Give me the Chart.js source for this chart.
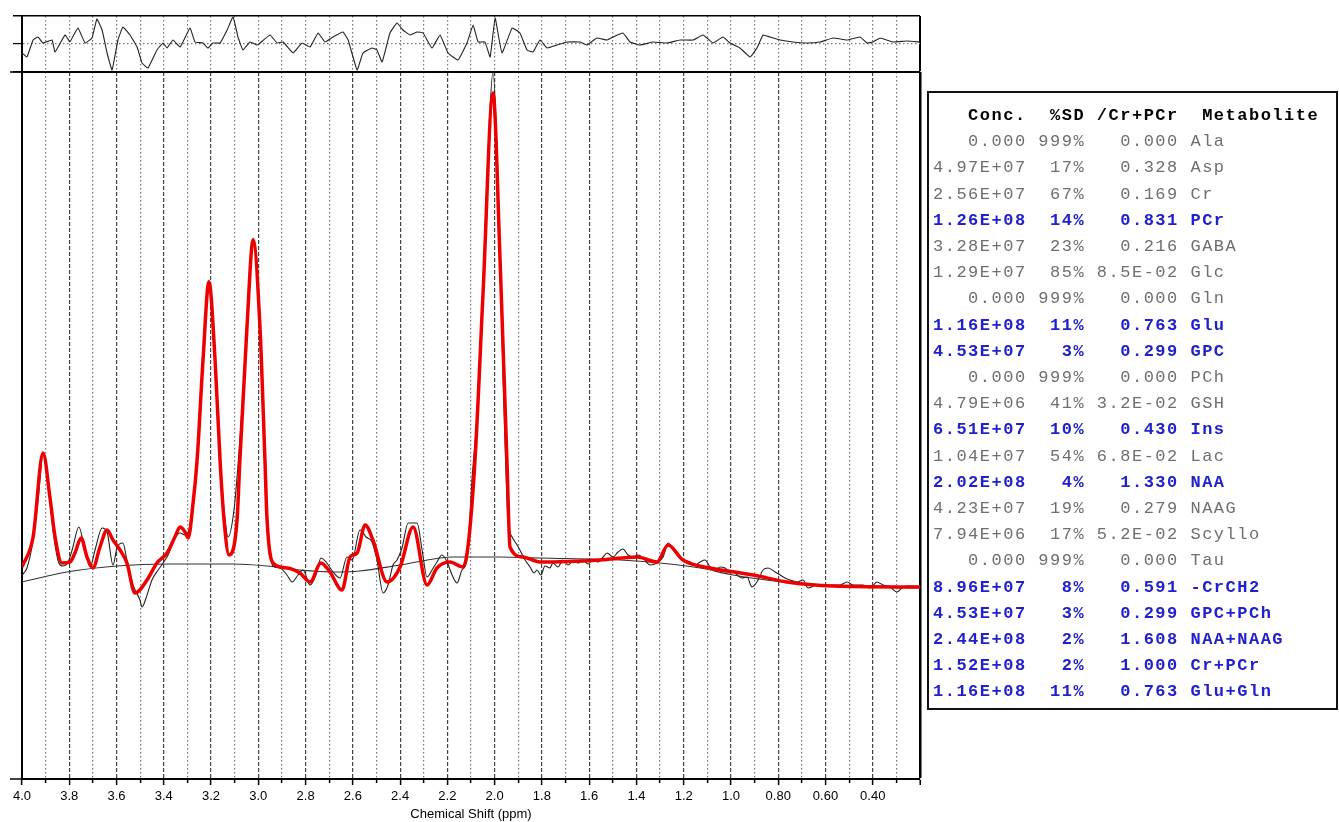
<!DOCTYPE html>
<html>
  <head>
    <script src="https://cdn.jsdelivr.net/npm/chart.js"></script>
    <title>LCModel fit</title>
    <style>
      body {
        margin: 0;
        background-color: white;
        width: 1339px;
        height: 822px;
        overflow: hidden;
        position: relative;
      }
      .panel {
        position: absolute;
        left: 0;
      }
      .table {
        position: absolute;
        left: 927px;
        top: 91px;
        width: 411px;
        height: 619px;
        box-sizing: border-box;
        border: 2px solid #111;
        padding: 10px 0 0 4px;
        font-family: "Liberation Mono", "DejaVu Sans Mono", monospace;
        font-size: 17px;
        letter-spacing: 1.5px;
        line-height: 26.2px;
        white-space: pre;
        color: #6f6f6f;
      }
      .table .head { color: #000; font-weight: bold; }
      .table .hi { color: #2020d0; font-weight: bold; }
    </style>
  </head>
  <body>
    <canvas id="residual" class="panel" style="top:0px" width="930" height="80"></canvas>
    <canvas id="spectrum" class="panel" style="top:66px" width="930" height="756"></canvas>
    <div class="table" id="table"></div>

<script>
  // x positions in ppm, intensities in plot units (0 = x axis, 707 = top of plot)
  const fitPpm = [4.000, 3.953, 3.911, 3.882, 3.860, 3.831, 3.797, 3.776, 3.750, 3.725, 3.700, 3.670, 3.640, 3.615,
    3.585, 3.556, 3.522, 3.471, 3.429, 3.386, 3.353, 3.331, 3.310, 3.297, 3.276, 3.259, 3.234, 3.209, 3.183, 3.162,
    3.145, 3.124, 3.090, 3.078, 3.048, 3.022, 2.993, 2.972, 2.963, 2.938, 2.879, 2.824, 2.781, 2.735, 2.697, 2.646,
    2.612, 2.582, 2.548, 2.515, 2.455, 2.400, 2.345, 2.286, 2.244, 2.189, 2.134, 2.113, 2.083, 2.049, 2.007, 1.977,
    1.948, 1.935, 1.880, 1.808, 1.554, 1.397, 1.313, 1.266, 1.203, 1.088, 0.960, 0.906, 0.763, 0.568, 0.200];
  const fitVal = [212, 242, 326, 282, 242, 216, 217, 226, 241, 222, 211, 232, 249, 239,
    229, 216, 186, 199, 216, 226, 242, 252, 247, 241, 276, 319, 419, 497, 419, 319,
    259, 224, 259, 319, 452, 539, 452, 319, 259, 216, 211, 206, 197, 216, 207, 189,
    222, 226, 254, 239, 197, 212, 252, 194, 211, 217, 212, 232, 319, 486, 686, 519,
    319, 232, 222, 217, 219, 222, 217, 234, 219, 211, 206, 204, 197, 193, 192];

  const dataPpm = [4.000, 3.979, 3.953, 3.932, 3.911, 3.890, 3.869, 3.848, 3.827, 3.805, 3.788, 3.759, 3.738, 3.712,
    3.691, 3.661, 3.640, 3.615, 3.598, 3.573, 3.556, 3.530, 3.501, 3.492, 3.475, 3.450, 3.424, 3.403, 3.382, 3.353,
    3.331, 3.310, 3.289, 3.259, 3.234, 3.209, 3.183, 3.162, 3.145, 3.128, 3.103, 3.078, 3.048, 3.022, 2.993, 2.972,
    2.955, 2.938, 2.908, 2.879, 2.857, 2.832, 2.811, 2.781, 2.756, 2.735, 2.713, 2.684, 2.654, 2.625, 2.603, 2.570,
    2.544, 2.519, 2.498, 2.472, 2.451, 2.430, 2.413, 2.392, 2.366, 2.328, 2.307, 2.286, 2.265, 2.244, 2.223, 2.201,
    2.180, 2.159, 2.138, 2.117, 2.096, 2.070, 2.045, 2.024, 2.007, 1.986, 1.964, 1.943, 1.926, 1.905, 1.893, 1.871,
    1.850, 1.833, 1.821, 1.804, 1.787, 1.766, 1.753, 1.732, 1.711, 1.689, 1.668, 1.647, 1.626, 1.605, 1.584, 1.562,
    1.541, 1.524, 1.499, 1.478, 1.457, 1.435, 1.414, 1.393, 1.372, 1.342, 1.313, 1.287, 1.266, 1.245, 1.215, 1.173,
    1.152, 1.131, 1.110, 1.088, 1.067, 1.046, 1.025, 1.004, 0.991, 0.974, 0.953, 0.932, 0.911, 0.890, 0.864, 0.843,
    0.813, 0.792, 0.771, 0.750, 0.720, 0.695, 0.674, 0.636, 0.593, 0.568, 0.538, 0.509, 0.483, 0.441, 0.411, 0.382,
    0.356, 0.327, 0.297, 0.272, 0.242, 0.200];
  const dataVal = [204, 211, 239, 279, 324, 299, 249, 219, 213, 217, 229, 252, 234, 212,
    229, 251, 247, 214, 231, 236, 219, 194, 179, 172, 181, 199, 209, 216, 224, 241,
    246, 244, 254, 319, 419, 499, 419, 319, 269, 242, 269, 339, 452, 541, 452, 319,
    239, 213, 211, 204, 197, 204, 209, 194, 204, 221, 217, 207, 201, 222, 219, 249,
    242, 237, 219, 186, 194, 214, 219, 231, 256, 256, 229, 202, 209, 217, 224, 217,
    204, 196, 209, 219, 299, 379, 519, 649, 707, 599, 399, 259, 242, 234, 229, 219,
    212, 206, 209, 204, 213, 211, 216, 212, 219, 214, 218, 216, 219, 215, 219, 217,
    222, 226, 222, 227, 230, 224, 222, 224, 221, 214, 216, 222, 236, 229, 221, 217,
    214, 217, 219, 212, 209, 212, 211, 207, 207, 204, 201, 202, 192, 197, 209, 211,
    207, 204, 201, 199, 197, 199, 191, 194, 193, 194, 194, 197, 194, 194, 191, 197,
    194, 192, 187, 192, 193, 192];

  const basePpm = [4.000, 3.810, 3.598, 3.386, 3.107, 2.963, 2.824, 2.675, 2.570, 2.400, 2.176, 1.977, 1.808,
    1.469, 1.300, 1.131, 0.991, 0.779, 0.568, 0.200];
  const baseVal = [197, 207, 213, 215, 215, 213, 209, 207, 208, 214, 222, 222, 221,
    219, 216, 211, 204, 197, 193, 191];

  // residual panel, 0 = centre line, +-28 = panel edges
  const resPpm = [4.000, 3.979, 3.953, 3.932, 3.911, 3.873, 3.860, 3.818, 3.797, 3.788, 3.763, 3.733, 3.704, 3.683,
    3.661, 3.640, 3.619, 3.594, 3.573, 3.543, 3.513, 3.492, 3.467, 3.429, 3.403, 3.386, 3.361, 3.331, 3.289, 3.268,
    3.234, 3.213, 3.192, 3.162, 3.132, 3.107, 3.086, 3.065, 3.035, 3.005, 2.993, 2.950, 2.921, 2.895, 2.853, 2.815,
    2.781, 2.747, 2.718, 2.684, 2.642, 2.620, 2.582, 2.557, 2.519, 2.498, 2.476, 2.443, 2.413, 2.388, 2.358, 2.328,
    2.303, 2.265, 2.231, 2.197, 2.155, 2.117, 2.091, 2.070, 2.041, 2.019, 1.998, 1.969, 1.926, 1.893, 1.863, 1.838,
    1.808, 1.778, 1.736, 1.694, 1.639, 1.609, 1.567, 1.524, 1.499, 1.457, 1.427, 1.385, 1.330, 1.270, 1.215, 1.160,
    1.118, 1.076, 1.034, 1.004, 0.962, 0.919, 0.890, 0.864, 0.835, 0.792, 0.737, 0.678, 0.623, 0.568, 0.509, 0.454,
    0.424, 0.399, 0.369, 0.314, 0.255, 0.200];
  const resVal = [-9, -13, 4, 7, 1, 4, -8, 9, 2, 6, 16, 1, 6, 25,
    14, -9, -26, 4, 17, 9, -3, -19, -24, -6, 1, -4, 4, -3, 16, 2,
    1, -4, 1, 1, 14, 27, 7, -6, 2, -1, 1, 9, 1, 2, -9, 1,
    -3, 11, 2, 7, 12, 4, -26, -9, -4, -6, -18, 11, 21, 14, 9, 12,
    11, -4, 9, -9, -16, 1, 19, 2, 2, -13, 26, -9, 16, 11, -6, -8,
    4, -4, -1, 2, 2, -1, 6, 4, 7, 11, 2, -1, 2, 1, 4, 4,
    9, 1, 7, 1, -4, -13, -4, 9, 7, 4, 2, 1, 2, 6, 4, 7,
    1, 2, 6, 2, 3, 2];

  const xMajorTicks = [4.0, 3.8, 3.6, 3.4, 3.2, 3.0, 2.8, 2.6, 2.4, 2.2, 2.0, 1.8, 1.6, 1.4, 1.2, 1.0, 0.8, 0.6, 0.4];
  const xTickLabels = ['4.0', '3.8', '3.6', '3.4', '3.2', '3.0', '2.8', '2.6', '2.4', '2.2', '2.0', '1.8', '1.6',
    '1.4', '1.2', '1.0', '0.80', '0.60', '0.40'];

  // LCModel result table
  const concs = ['0.000', '4.97E+07', '2.56E+07', '1.26E+08', '3.28E+07', '1.29E+07', '0.000', '1.16E+08', '4.53E+07',
    '0.000', '4.79E+06', '6.51E+07', '1.04E+07', '2.02E+08', '4.23E+07', '7.94E+06', '0.000', '8.96E+07', '4.53E+07',
    '2.44E+08', '1.52E+08', '1.16E+08'];
  const sds = ['999%', '17%', '67%', '14%', '23%', '85%', '999%', '11%', '3%', '999%', '41%', '10%', '54%', '4%',
    '19%', '17%', '999%', '8%', '3%', '2%', '2%', '11%'];
  const ratios = ['0.000', '0.328', '0.169', '0.831', '0.216', '8.5E-02', '0.000', '0.763', '0.299', '0.000',
    '3.2E-02', '0.430', '6.8E-02', '1.330', '0.279', '5.2E-02', '0.000', '0.591', '0.299', '1.608', '1.000', '0.763'];
  const metabolites = ['Ala', 'Asp', 'Cr', 'PCr', 'GABA', 'Glc', 'Gln', 'Glu', 'GPC', 'PCh', 'GSH', 'Ins', 'Lac',
    'NAA', 'NAAG', 'Scyllo', 'Tau', '-CrCH2', 'GPC+PCh', 'NAA+NAAG', 'Cr+PCr', 'Glu+Gln'];
  const highlighted = [false, false, false, true, false, false, false, true, true, false, false, true, false,
    true, false, false, false, true, true, true, true, true];

  // build the table text
  const table = document.getElementById('table');
  let html = '<div class="head">' + 'Conc.'.padStart(8) + ' ' + '%SD'.padStart(4) + ' ' + '/Cr+PCr'.padStart(7) +
    '  Metabolite</div>';
  metabolites.forEach((name, i) => {
    const line = concs[i].padStart(8) + ' ' + sds[i].padStart(4) + ' ' + ratios[i].padStart(7) + ' ' + name;
    html += '<div' + (highlighted[i] ? ' class="hi"' : '') + '>' + line + '</div>';
  });
  table.innerHTML = html;

  function toPoints(xs, ys) {
    return xs.map((x, i) => ({x: x, y: ys[i]}));
  }
  function isMajor(v) {
    return Math.round(v * 10) % 2 === 0;
  }
  function isEdge(v) {
    return Math.abs(v - 0.2) < 1e-6;
  }
  // grid every 0.1 ppm from 4.0 to 0.2
  function buildPpmTicks(scale) {
    const ticks = [];
    for (let i = 40; i >= 2; i--) ticks.push({value: i / 10});
    scale.ticks = ticks;
  }

  const xFont = {family: 'Liberation Sans, Arial, sans-serif', size: 13};

  // main spectrum
  new Chart(document.getElementById('spectrum'), {
    type: 'line',
    data: {
      datasets: [
        {
          label: 'fit',
          data: toPoints(fitPpm, fitVal),
          borderColor: '#ee0000',
          borderWidth: 3.5,
          pointRadius: 0,
          cubicInterpolationMode: 'monotone',
        },
        {
          label: 'data',
          data: toPoints(dataPpm, dataVal),
          borderColor: '#222',
          borderWidth: 1.1,
          pointRadius: 0,
          cubicInterpolationMode: 'monotone',
        },
        {
          label: 'baseline',
          data: toPoints(basePpm, baseVal),
          borderColor: '#333',
          borderWidth: 1.2,
          pointRadius: 0,
          cubicInterpolationMode: 'monotone',
        },
      ],
    },
    options: {
      responsive: false,
      animation: false,
      layout: {padding: {top: 6, right: 10, left: 0, bottom: 0}},
      plugins: {legend: {display: false}, tooltip: {enabled: false}},
      scales: {
        x: {
          type: 'linear',
          reverse: true,
          min: 0.2,
          max: 4.0,
          afterBuildTicks: buildPpmTicks,
          afterFit: (s) => { s.height = 43; },
          ticks: {
            autoSkip: false,
            maxRotation: 0,
            padding: 4,
            color: '#000',
            font: xFont,
            callback: (v) => {
              const i = xMajorTicks.findIndex((t) => Math.abs(t - v) < 1e-6);
              return i >= 0 ? xTickLabels[i] : '';
            },
          },
          grid: {
            color: (c) => (c.tick && isEdge(c.tick.value)) ? '#000' : (c.tick && isMajor(c.tick.value) ? '#444' : '#777'),
            lineWidth: (c) => (c.tick && isEdge(c.tick.value)) ? 2.5 : 1.2,
            tickLength: 6,
            tickColor: '#000',
            tickWidth: 1.5,
            tickBorderDash: (c) => (c.tick && !isMajor(c.tick.value)) ? [3, 20] : [],
          },
          border: {
            color: '#000',
            width: 2,
            dash: (c) => {
              if (!c.tick || isEdge(c.tick.value)) return [];
              return isMajor(c.tick.value) ? [4, 2] : [1.5, 2.5];
            },
          },
          title: {
            display: true,
            text: 'Chemical Shift (ppm)',
            color: '#000',
            font: xFont,
            padding: {top: 0, bottom: 0},
          },
        },
        y: {
          min: 0,
          max: 707,
          afterBuildTicks: (s) => { s.ticks = [{value: 0}, {value: 707}]; },
          afterFit: (s) => { s.width = 22; },
          ticks: {display: false},
          grid: {
            color: (c) => (c.tick && c.tick.value === 707) ? '#000' : 'rgba(0,0,0,0)',
            lineWidth: 2,
            tickLength: 12,
            tickColor: '#000',
            tickWidth: 1.5,
          },
          border: {color: '#000', width: 2},
        },
      },
    },
  });

  // residual panel on top
  new Chart(document.getElementById('residual'), {
    type: 'line',
    data: {
      datasets: [{
        label: 'residual',
        data: toPoints(resPpm, resVal),
        borderColor: '#222',
        borderWidth: 1.1,
        pointRadius: 0,
        tension: 0.1,
      }],
    },
    options: {
      responsive: false,
      animation: false,
      layout: {padding: {top: 16, right: 10, left: 0, bottom: 8}},
      plugins: {legend: {display: false}, tooltip: {enabled: false}},
      scales: {
        x: {
          type: 'linear',
          reverse: true,
          min: 0.2,
          max: 4.0,
          afterBuildTicks: buildPpmTicks,
          afterFit: (s) => { s.height = 0; },
          ticks: {display: false},
          grid: {
            drawTicks: false,
            color: (c) => (c.tick && isEdge(c.tick.value)) ? '#000' : '#777',
            lineWidth: (c) => (c.tick && isEdge(c.tick.value)) ? 2 : 1.2,
          },
          border: {
            color: '#000',
            width: 2,
            dash: (c) => (!c.tick || isEdge(c.tick.value)) ? [] : [1.5, 2.5],
          },
        },
        y: {
          min: -28,
          max: 28,
          afterBuildTicks: (s) => { s.ticks = [{value: -28}, {value: 0}, {value: 28}]; },
          afterFit: (s) => { s.width = 22; },
          ticks: {display: false},
          grid: {
            color: (c) => (c.tick && c.tick.value === 0) ? '#777' : '#000',
            lineWidth: (c) => (c.tick && c.tick.value === 0) ? 1.2 : 1.5,
            tickLength: 9,
            tickColor: '#000',
          },
          border: {
            color: '#000',
            width: 2,
            dash: (c) => (c.tick && c.tick.value === 0) ? [1.5, 2.5] : [],
          },
        },
      },
    },
  });
</script>
  </body>
</html>
